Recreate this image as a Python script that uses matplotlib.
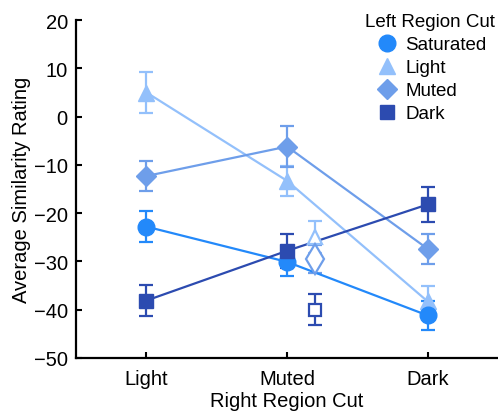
import numpy as np
import matplotlib.pyplot as plt
from matplotlib.lines import Line2D

plt.rcParams['font.family'] = ['Liberation Sans', 'DejaVu Sans']

# Right region cut categories (x axis)
categories = ['Light', 'Muted', 'Dark']

# Mean similarity rating per left region cut
saturated_mean = [-22.8, -30.1, -41.2]
saturated_err = [3.2, 3.0, 3.0]
light_mean = [5.0, -13.3, -38.3]
light_err = [4.3, 3.1, 3.2]
muted_mean = [-12.3, -6.2, -27.4]
muted_err = [3.1, 4.2, 3.1]
dark_mean = [-38.1, -27.8, -18.2]
dark_err = [3.2, 3.5, 3.6]

# Hollow points beside the Muted column
hollow_labels = ['Light', 'Muted', 'Dark']
hollow_mean = [-24.9, -29.5, -40.0]
hollow_err = [3.3, 2.8, 3.2]

colors = {'Saturated': '#2389FA', 'Light': '#93C0FB',
          'Muted': '#6E9EEA', 'Dark': '#2C4BB0'}
markers = {'Saturated': ('o', 12), 'Light': ('^', 12),
           'Muted': ('D', 10), 'Dark': ('s', 10)}
hollow_markers = {'Light': ('^', 10), 'Muted': ('d', 15), 'Dark': ('s', 9)}

series = {'Saturated': (saturated_mean, saturated_err),
          'Light': (light_mean, light_err),
          'Muted': (muted_mean, muted_err),
          'Dark': (dark_mean, dark_err)}

fig = plt.figure(figsize=(4.98, 4.14), dpi=100)
ax = fig.add_axes([0.153, 0.133, 0.847, 0.816])

x = np.arange(1, len(categories) + 1)

# draw order so overlapping markers look like the original
for name in ['Light', 'Muted', 'Saturated', 'Dark']:
    mean, err = series[name]
    m, ms = markers[name]
    ax.errorbar(x, mean, yerr=err, color=colors[name], marker=m, markersize=ms,
                linewidth=1.6, elinewidth=1.6, capsize=5, capthick=1.6)

# hollow comparison points
for name, mean, err in zip(hollow_labels, hollow_mean, hollow_err):
    m, ms = hollow_markers[name]
    ax.errorbar([2.2], [mean], yerr=[err], color=colors[name], marker=m,
                markersize=ms, markerfacecolor='white', markeredgewidth=1.6,
                linestyle='none', elinewidth=1.6, capsize=5, capthick=1.6)

ax.set_xlim(0.5, 3.5)
ax.set_ylim(-50, 20)
ax.set_yticks(np.arange(-50, 21, 10))
ax.set_xticks(x)
ax.set_xticklabels(categories)
ax.tick_params(direction='in', length=4, width=1.5, labelsize=14.5, pad=6)
ax.tick_params(axis='x', pad=8)
ax.set_ylabel('Average Similarity Rating', fontsize=14.5)
ax.yaxis.set_label_coords(-0.106, 0.5)
ax.set_xlabel('Right Region Cut', fontsize=14.5, labelpad=2)

for side in ['top', 'right']:
    ax.spines[side].set_visible(False)
for side in ['left', 'bottom']:
    ax.spines[side].set_linewidth(1.6)

handles = [Line2D([], [], color=colors[n], marker=markers[n][0],
                  markersize=markers[n][1], linestyle='none')
           for n in ['Saturated', 'Light', 'Muted', 'Dark']]
leg = fig.legend(handles, ['Saturated', 'Light', 'Muted', 'Dark'],
                 title='Left Region Cut', loc='upper right',
                 bbox_to_anchor=(1.02, 0.998), frameon=False, fontsize=13.5,
                 title_fontsize=13.5, handletextpad=0.2, labelspacing=0.32,
                 borderaxespad=0.3, handlelength=1.5)

fig.savefig('out.png', dpi=100)
